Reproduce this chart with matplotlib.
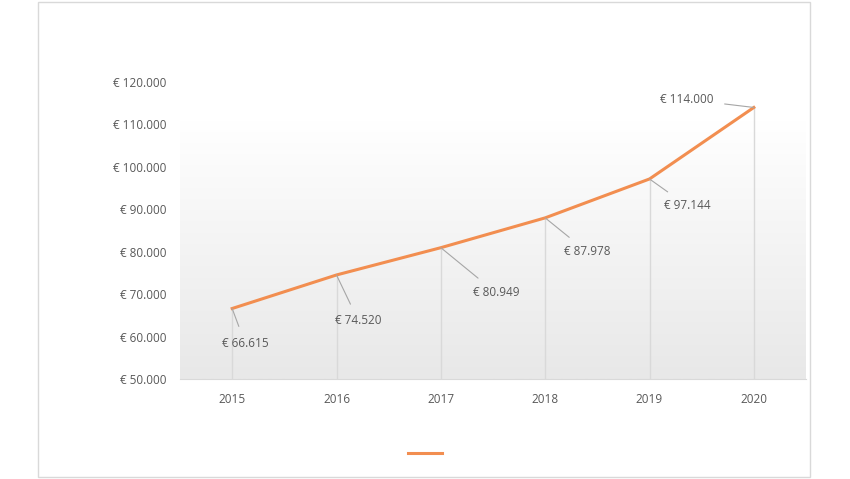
import matplotlib
matplotlib.use("Agg")
import matplotlib.pyplot as plt
import numpy as np
from matplotlib.lines import Line2D
from matplotlib.patches import Rectangle

years = ["2015", "2016", "2017", "2018", "2019", "2020"]
values = [66615, 74520, 80949, 87978, 97144, 114000]
labels = ["€ 66.615", "€ 74.520", "€ 80.949", "€ 87.978", "€ 97.144", "€ 114.000"]
yticks = [50000, 60000, 70000, 80000, 90000, 100000, 110000, 120000]
ytick_labels = ["€ 50.000", "€ 60.000", "€ 70.000", "€ 80.000", "€ 90.000", "€ 100.000", "€ 110.000", "€ 120.000"]

plt.rcParams['font.family'] = ['Open Sans', 'DejaVu Sans']
fig = plt.figure(figsize=(8.5, 4.79), dpi=100)
fig.patches.append(Rectangle((38/850, 2/479), 772/850, 475/479, transform=fig.transFigure,
                             fill=False, edgecolor='#d9d9d9', lw=1))
ax = fig.add_axes([180/850, 1-379/479, 626/850, 297/479])
x = np.arange(len(years))
ax.set_xlim(-0.5, len(years)-0.5)
ax.set_ylim(50000, 120000)

grad = np.linspace(0, 1, 256).reshape(-1, 1)
cmap = matplotlib.colors.LinearSegmentedColormap.from_list('g', ['#e8e8e8', '#ffffff'])
ax.imshow(grad, extent=(-0.5, len(years)-0.5, 50000, 111000), origin='lower', cmap=cmap,
          aspect='auto', zorder=0)

ax.vlines(x, 50000, values, color='#d9d9d9', lw=1, zorder=1)
ax.plot(x, values, color='#f28e50', lw=2.2, zorder=3)

offsets = [(13, -35), (22, -46), (55, -45), (42, -34), (38, -27), (-67, 8)]
for xi, v, lab, off in zip(x, values, labels, offsets):
    ax.annotate(lab, (xi, v), xytext=off, textcoords='offset pixels', ha='center', va='center',
                fontsize=8.5, color='#595959',
                arrowprops=dict(arrowstyle='-', color='#a6a6a6', lw=0.8, shrinkA=6, shrinkB=0))

ax.set_yticks(yticks)
ax.set_yticklabels(ytick_labels)
ax.set_xticks(x)
ax.set_xticklabels(years)
ax.tick_params(length=0, colors='#595959', labelsize=8.5)
ax.tick_params(axis='y', pad=10)
ax.tick_params(axis='x', pad=10)
for s in ['top', 'right', 'left']:
    ax.spines[s].set_visible(False)
ax.spines['bottom'].set_color('#d9d9d9')

fig.add_artist(Line2D([408/850, 442/850], [1-453/479, 1-453/479], color='#f28e50', lw=2.2,
                      transform=fig.transFigure))
fig.savefig('out.png', dpi=100)
